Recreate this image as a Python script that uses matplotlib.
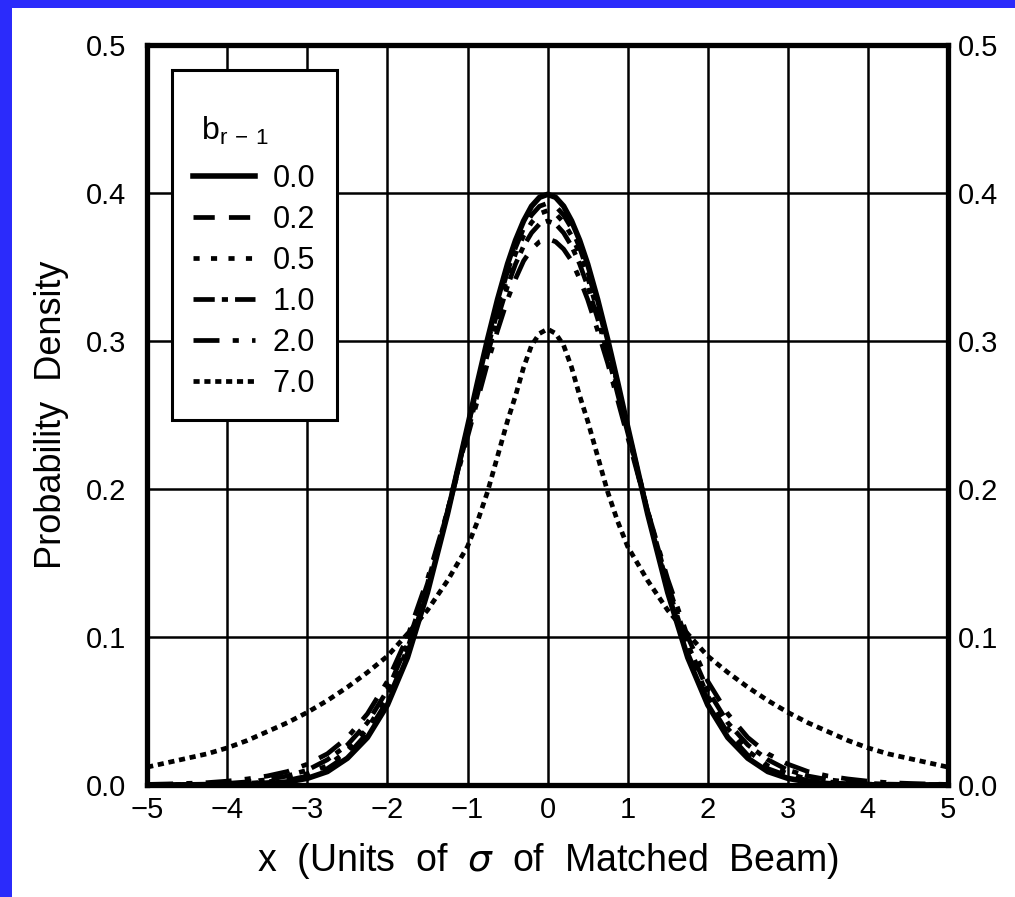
import numpy as np
import matplotlib.pyplot as plt
from matplotlib.patches import Rectangle

# half-curves (x >= 0), mirrored since the curves are symmetric
x_half = [0.0, 0.1, 0.2, 0.3, 0.4, 0.5, 0.625, 0.75, 0.875, 1.0, 1.25, 1.5, 1.75,
          2.0, 2.25, 2.5, 2.75, 3.0, 3.25, 3.5, 3.75, 4.0, 4.25, 4.5, 4.75, 5.0]

b_00 = [0.399, 0.397, 0.391, 0.381, 0.368, 0.352, 0.328, 0.301, 0.272, 0.242, 0.183,
        0.130, 0.086, 0.054, 0.032, 0.018, 0.009, 0.0044, 0.002, 0.0009, 0.0004,
        0.0001, 0.0, 0.0, 0.0, 0.0]
b_02 = [0.393, 0.391, 0.385, 0.376, 0.363, 0.347, 0.324, 0.298, 0.270, 0.241, 0.184,
        0.132, 0.089, 0.057, 0.035, 0.020, 0.011, 0.006, 0.003, 0.0015, 0.0007,
        0.0003, 0.0001, 0.0, 0.0, 0.0]
b_05 = [0.388, 0.386, 0.380, 0.371, 0.359, 0.343, 0.320, 0.295, 0.267, 0.240, 0.185,
        0.134, 0.092, 0.060, 0.038, 0.023, 0.013, 0.0075, 0.004, 0.002, 0.001,
        0.0005, 0.0002, 0.0001, 0.0, 0.0]
b_10 = [0.381, 0.379, 0.373, 0.364, 0.352, 0.337, 0.315, 0.291, 0.264, 0.238, 0.185,
        0.136, 0.095, 0.064, 0.042, 0.027, 0.017, 0.010, 0.006, 0.0035, 0.002,
        0.001, 0.0005, 0.0003, 0.0001, 0.0]
b_20 = [0.369, 0.367, 0.362, 0.354, 0.342, 0.328, 0.307, 0.285, 0.260, 0.235, 0.185,
        0.139, 0.100, 0.070, 0.048, 0.032, 0.021, 0.014, 0.009, 0.006, 0.004,
        0.0025, 0.0015, 0.001, 0.0006, 0.0003]
b_70 = [0.308, 0.305, 0.297, 0.282, 0.263, 0.246, 0.222, 0.198, 0.178, 0.161, 0.138,
        0.118, 0.102, 0.087, 0.076, 0.066, 0.057, 0.049, 0.042, 0.036, 0.030,
        0.025, 0.021, 0.018, 0.015, 0.012]

labels = ['0.0', '0.2', '0.5', '1.0', '2.0', '7.0']
series = [b_00, b_02, b_05, b_10, b_20, b_70]
styles = ['-', (0, (4.5, 3)), (0, (1.3, 2.4)), (0, (4.5, 1.5, 1.3, 1.5)),
          (0, (5.5, 2.8, 1.3, 2.8)), (0, (1.3, 1.0))]

x_ticks = [-5, -4, -3, -2, -1, 0, 1, 2, 3, 4, 5]
y_ticks = [0.0, 0.1, 0.2, 0.3, 0.4, 0.5]


def mirror(v):
    v = np.asarray(v)
    return np.concatenate([v[:0:-1], v])


xs = np.concatenate([-np.asarray(x_half)[:0:-1], x_half])

plt.rcParams['font.family'] = ['Liberation Sans', 'DejaVu Sans']

fig = plt.figure(figsize=(10.15, 8.97), dpi=100)
fig.patch.set_facecolor('#2b2bfb')
fig.patches.append(Rectangle((12 / 1015, 0), 1, 1 - 8 / 897, transform=fig.transFigure,
                             facecolor='white', edgecolor='none', zorder=-10))

ax = fig.add_axes([0.145, 0.125, 0.789, 0.825])
for lab, vals, ls in zip(labels, series, styles):
    lw = 4 if ls == '-' else 3.4
    ax.plot(xs, mirror(vals), color='black', lw=lw, linestyle=ls, label=lab)

ax.set_xlim(-5, 5)
ax.set_ylim(0, 0.5)
ax.set_xticks(x_ticks)
ax.set_xticklabels([str(t).replace('-', '\u2212') for t in x_ticks])
ax.set_yticks(y_ticks)
ax.set_yticklabels([f'{t:.1f}' for t in y_ticks])
ax.grid(True, color='black', lw=1.8)
ax.set_axisbelow(True)
ax.tick_params(axis='x', length=0, labelsize=21, pad=8)
ax.tick_params(axis='y', length=0, labelsize=21, pad=15)
for s in ax.spines.values():
    s.set_linewidth(3.8)

ax2 = ax.twinx()
ax2.set_ylim(0, 0.5)
ax2.set_yticks(y_ticks)
ax2.set_yticklabels([f'{t:.1f}' for t in y_ticks])
ax2.tick_params(length=0, labelsize=21, pad=7)
for s in ax2.spines.values():
    s.set_visible(False)

ax.set_xlabel('x  (Units  of  $\\sigma$  of  Matched  Beam)', fontsize=27, labelpad=12)
ax.set_ylabel('Probability  Density', fontsize=26, labelpad=12)

leg = ax.legend(title='\n$\\mathregular{b_{r\\,-\\,1}}$', loc='upper left',
                bbox_to_anchor=(0.031, 0.966), borderaxespad=0, fontsize=22,
                title_fontsize=23, handlelength=2.0, handletextpad=0.6,
                labelspacing=0.36, borderpad=0.7,
                fancybox=False, framealpha=1, edgecolor='black')
leg.get_frame().set_linewidth(2.2)
leg._legend_box.align = 'left'
leg._legend_box.sep = 12
leg.get_title().set_linespacing(0.75)
leg.get_title().set_position((8, 0))

plt.savefig('out.png', dpi=100)
